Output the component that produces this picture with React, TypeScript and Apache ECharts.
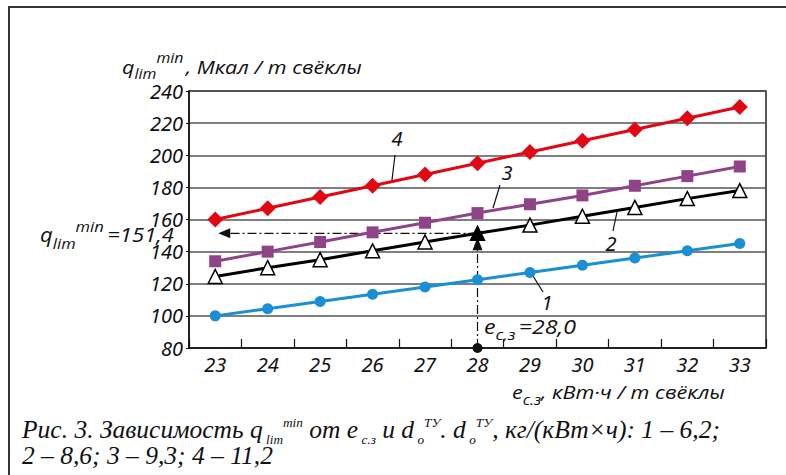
import React, { useEffect, useRef } from "react";
import * as echarts from "echarts";

const categories = ["23", "24", "25", "26", "27", "28", "29", "30", "31", "32", "33"];
const series1 = [100, 104.5, 109, 113.5, 118, 122.5, 127, 131.5, 136, 140.5, 145];
const series2 = [124.5, 130, 135, 140.5, 146, 151.4, 156.5, 162, 167.5, 173, 178];
const series3 = [134, 140, 146, 152, 158, 164, 169.5, 175, 181, 187, 193];
const series4 = [160, 167, 174, 181, 188, 195, 202, 209, 216, 223, 230];
const markIndex = 5; // e = 28,0
const markValue = 151.4;

const SANS = "Open Sans";
const NUM = "Noto Sans";
const SERIF = "Liberation Serif";

type Seg = { t: string; s: number; dy?: number; fam?: string; gap?: number };

let ctx: CanvasRenderingContext2D | null = null;
function measure(t: string, s: number, fam: string) {
  if (!ctx) ctx = document.createElement("canvas").getContext("2d");
  ctx!.font = `italic ${s}px ${fam}`;
  return ctx!.measureText(t).width;
}

function runs(x0: number, baseline: number, segs: Seg[], fam: string, fit?: number, kForce?: number) {
  const widths = segs.map((g) => measure(g.t, g.s, g.fam || fam) + (g.gap || 0));
  const total = widths.reduce((a, b) => a + b, 0);
  const k = kForce ?? (fit ? fit / total : 1);
  const central = fam === SERIF ? 0.34 : 0.39;
  let acc = 0;
  const els: any[] = [];
  segs.forEach((g, i) => {
    const f = g.fam || fam;
    els.push({
      type: "text",
      silent: true,
      x: x0 + acc * k,
      y: baseline + (g.dy || 0) - central * g.s,
      scaleX: k,
      style: {
        text: g.t,
        fontSize: g.s,
        fontFamily: f,
        fontStyle: "italic",
        fill: "#111",
        align: "left",
        verticalAlign: "middle",
      },
    });
    acc += widths[i];
  });
  return { els, k };
}

function leader(x1: number, y1: number, x2: number, y2: number) {
  return { type: "line", silent: true, shape: { x1, y1, x2, y2 }, style: { stroke: "#111", lineWidth: 1.2 } };
}

export default function App() {
  const ref = useRef<HTMLDivElement>(null);
  useEffect(() => {
    if (!ref.current) return;
    const chart = echarts.init(ref.current, undefined, { renderer: "svg" });
    const labelStyle = { fontSize: 20, fontStyle: "italic" as const, fontFamily: NUM, color: "#111" };
    chart.setOption({
      animation: false,
      backgroundColor: "#fff",
      grid: { left: 189, right: 20, top: 91, bottom: 127, show: true, borderColor: "#222", borderWidth: 1.5 },
      xAxis: {
        type: "category",
        data: categories,
        boundaryGap: true,
        axisLine: { lineStyle: { color: "#111", width: 1.5 } },
        axisTick: { show: true, inside: true, length: 9, lineStyle: { color: "#111", width: 1.2 } },
        axisLabel: { ...labelStyle, margin: 6 },
        splitLine: { show: false },
      },
      yAxis: {
        type: "value",
        min: 80,
        max: 240,
        interval: 20,
        axisLine: { show: true, lineStyle: { color: "#111", width: 1.5 } },
        axisTick: { show: true, length: 3, lineStyle: { color: "#111" } },
        axisLabel: { ...labelStyle, margin: 6 },
        splitLine: { lineStyle: { color: "#555", width: 1.5 } },
      },
      series: [
        {
          type: "line",
          data: series1,
          symbol: "circle",
          symbolSize: 11,
          lineStyle: { color: "#1b8fd3", width: 3 },
          itemStyle: { color: "#1b8fd3" },
        },
        {
          type: "line",
          data: series2.map((v, i) =>
            i === markIndex ? { value: v, itemStyle: { color: "#000", borderColor: "#000" } } : v
          ),
          symbol: "triangle",
          symbolSize: 14,
          lineStyle: { color: "#000", width: 3 },
          itemStyle: { color: "#fff", borderColor: "#000", borderWidth: 1.5 },
        },
        {
          type: "line",
          data: series3,
          symbol: "rect",
          symbolSize: 12,
          lineStyle: { color: "#8f4488", width: 3 },
          itemStyle: { color: "#8f4488" },
        },
        {
          type: "line",
          data: series4,
          symbol: "diamond",
          symbolSize: 16,
          lineStyle: { color: "#e30613", width: 3 },
          itemStyle: { color: "#e30613" },
        },
      ],
    });

    const p = chart.convertToPixel({ xAxisIndex: 0, yAxisIndex: 0 }, [markIndex, markValue]) as number[];
    const base = chart.convertToPixel({ xAxisIndex: 0, yAxisIndex: 0 }, [markIndex, 80]) as number[];
    const axisX = chart.convertToPixel({ xAxisIndex: 0, yAxisIndex: 0 }, [-0.5, markValue]) as number[];
    const dash = [9, 3, 2, 3];
    const px = p[0];
    const py = p[1];
    const g: any[] = [];
    // outer frame
    g.push({ type: "line", silent: true, shape: { x1: 8, y1: 7, x2: 786, y2: 7 }, style: { stroke: "#333", lineWidth: 2 } });
    g.push({ type: "line", silent: true, shape: { x1: 9, y1: 7, x2: 9, y2: 475 }, style: { stroke: "#333", lineWidth: 2 } });
    // horizontal dash-dot with arrow
    const tipX = axisX[0] + 3;
    g.push({ type: "line", silent: true, shape: { x1: px, y1: py, x2: tipX + 10, y2: py }, style: { stroke: "#111", lineWidth: 1.2, lineDash: dash } });
    g.push({ type: "polygon", silent: true, shape: { points: [[tipX, py], [tipX + 12, py - 5], [tipX + 12, py + 5]] }, style: { fill: "#111" } });
    // vertical dash-dot with arrow
    const tipY = py + 4;
    g.push({ type: "line", silent: true, shape: { x1: px, y1: base[1], x2: px, y2: tipY + 10 }, style: { stroke: "#111", lineWidth: 1.2, lineDash: dash } });
    g.push({ type: "polygon", silent: true, shape: { points: [[px, tipY], [px - 5, tipY + 13], [px + 5, tipY + 13]] }, style: { fill: "#111" } });
    g.push({ type: "circle", silent: true, shape: { cx: px, cy: base[1], r: 5 }, style: { fill: "#111" } });

    // y-axis title
    g.push(
      ...runs(122, 74, [
        { t: "q", s: 19 },
        { t: "lim", s: 14, dy: 5 },
        { t: "min", s: 14, dy: -11, gap: 2 },
        { t: ", Мкал / т свёклы", s: 19 },
      ], SANS, 240).els
    );
    // x-axis title
    g.push(
      ...runs(512, 399, [
        { t: "e", s: 19 },
        { t: "с.з", s: 14, dy: 6 },
        { t: ", кВт·ч / т свёклы", s: 19 },
      ], SANS, 213).els
    );
    // q annotation
    g.push(
      ...runs(40, 242, [
        { t: "q", s: 20 },
        { t: "lim", s: 15, dy: 7 },
        { t: "min", s: 15, dy: -10, gap: 3 },
        { t: "=151,4", s: 20 },
      ], SANS, 134).els
    );
    // e annotation
    g.push(
      ...runs(484, 334, [
        { t: "e", s: 20 },
        { t: "с,з", s: 15, dy: 6, gap: 3 },
        { t: "=28,0", s: 20 },
      ], SANS, 92).els
    );
    // series labels
    const lab = (t: string, x: number, y: number) => ({
      type: "text",
      silent: true,
      x,
      y,
      style: {
        text: t,
        fontSize: 20,
        fontFamily: NUM,
        fontStyle: "italic",
        fill: "#111",
        align: "center",
        verticalAlign: "middle",
      },
    });
    g.push(lab("4", 397, 138), leader(395, 155, 392, 180));
    g.push(lab("3", 507, 172), leader(500, 185, 493, 208));
    g.push(lab("2", 611, 243), leader(617, 212, 613, 231));
    g.push(lab("1", 547, 302), leader(533, 276, 543, 292));

    // caption
    const cap1 = runs(22, 438, [
      { t: "Рис. 3. Зависимость q", s: 25 },
      { t: " lim", s: 13, dy: 6 },
      { t: "min", s: 13, dy: -11 },
      { t: " от e", s: 25 },
      { t: " с.з", s: 13, dy: 6 },
      { t: " и d", s: 25 },
      { t: " o", s: 13, dy: 6 },
      { t: "ТУ", s: 13, dy: -11 },
      { t: ". d", s: 25 },
      { t: " o", s: 13, dy: 6 },
      { t: "ТУ", s: 13, dy: -11 },
      { t: ", кг/(кВт×ч): 1 – 6,2;", s: 25 },
    ], SERIF, 698);
    g.push(...cap1.els);
    g.push(...runs(22, 464, [{ t: "2 – 8,6; 3 – 9,3; 4 – 11,2", s: 25 }], SERIF, undefined, cap1.k).els);

    chart.setOption({ graphic: g });
    return () => chart.dispose();
  }, []);
  return <div ref={ref} style={{ position: "fixed", left: 0, top: 0, width: 786, height: 475 }} />;
}
